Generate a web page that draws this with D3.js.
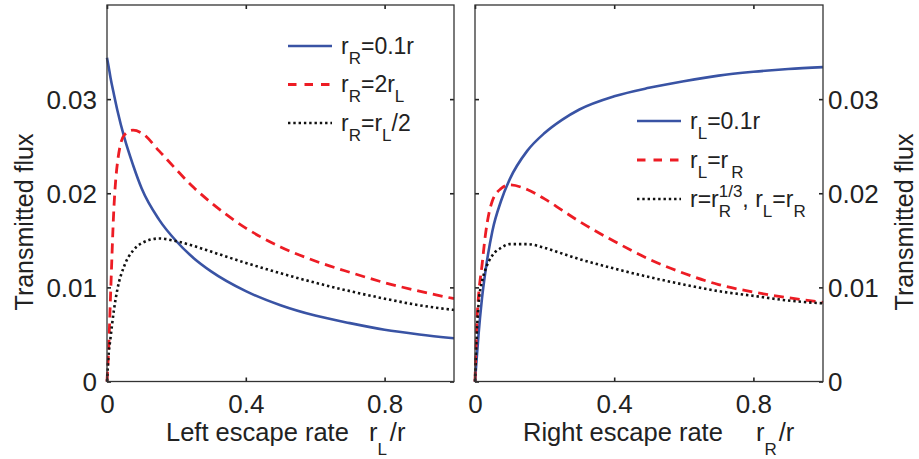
<!DOCTYPE html>
<html><head><meta charset="utf-8">
<script src="https://cdn.jsdelivr.net/npm/d3@7"></script>
<style>
body{margin:0;background:#fff}
svg{display:block}
text{font-family:"Liberation Sans",Arial,Helvetica,sans-serif;fill:#222}
</style>
</head><body>
<svg id="c" width="919" height="459"></svg>
<script>
// ---- data ----
const xGrid       = [0, 0.005, 0.01, 0.02, 0.03, 0.05, 0.075, 0.1, 0.15, 0.2, 0.25, 0.3, 0.4, 0.5, 0.6, 0.7, 0.8, 0.9, 1.0];
// left panel: x = r_L / r
const leftSolid   = [0.0344, 0.0334, 0.0323, 0.0305, 0.0288, 0.0259, 0.0230, 0.0205, 0.0172, 0.0149, 0.0131, 0.0117, 0.0096, 0.0081, 0.0070, 0.0062, 0.0055, 0.0050, 0.0046];
const leftDashed  = [0, 0.0037, 0.0089, 0.0185, 0.0232, 0.0262, 0.0267, 0.0264, 0.0245, 0.0225, 0.0206, 0.0190, 0.0163, 0.0143, 0.0128, 0.0116, 0.0105, 0.0096, 0.0088];
const leftDotted  = [0, 0.0030, 0.0046, 0.0076, 0.0098, 0.0123, 0.0139, 0.0147, 0.0152, 0.0149, 0.0144, 0.0138, 0.0126, 0.0115, 0.0105, 0.0096, 0.0088, 0.0081, 0.0076];
// right panel: x = r_R / r
const rightSolid  = [0, 0.0025, 0.0049, 0.0088, 0.0117, 0.0160, 0.0192, 0.0215, 0.0245, 0.0264, 0.0278, 0.0289, 0.0303, 0.0312, 0.0319, 0.0325, 0.0329, 0.0332, 0.0334];
const rightDashed = [0, 0.0060, 0.0090, 0.0123, 0.0156, 0.0192, 0.0205, 0.0209, 0.0204, 0.0194, 0.0182, 0.0170, 0.0149, 0.0130, 0.0115, 0.0103, 0.0095, 0.0089, 0.0084];
const rightDotted = [0, 0.0050, 0.0081, 0.0106, 0.0119, 0.0134, 0.0142, 0.0146, 0.0146, 0.0142, 0.0136, 0.0130, 0.0120, 0.0111, 0.0103, 0.0096, 0.0091, 0.0086, 0.0083];

const xTicks = [0, 0.4, 0.8];
const xTickLabels = ["0", "0.4", "0.8"];
const yTicks = [0, 0.01, 0.02, 0.03];
const yTickLabels = ["0", "0.01", "0.02", "0.03"];
const yTitle = "Transmitted flux";

const leftLegend = [
  [{t:"r"},{t:"R",s:"sub"},{t:"=0.1r"}],
  [{t:"r"},{t:"R",s:"sub"},{t:"=2r"},{t:"L",s:"sub"}],
  [{t:"r"},{t:"R",s:"sub"},{t:"=r"},{t:"L",s:"sub"},{t:"/2"}]
];
const rightLegend = [
  [{t:"r"},{t:"L",s:"sub"},{t:"=0.1r"}],
  [{t:"r"},{t:"L",s:"sub"},{t:"=r"},{t:"R",s:"sub",gap:3}],
  [{t:"r=r"},{t:"R",s:"sub"},{t:"1/3",s:"sup",back:12.3},{t:", r"},{t:"L",s:"sub"},{t:"=r"},{t:"R",s:"sub"}]
];
const leftXTitle  = [{t:"Left escape rate"},{t:"r",gap:20},{t:"L",s:"sub"},{t:"/r",gap:3}];
const rightXTitle = [{t:"Right escape rate"},{t:"r",gap:33},{t:"R",s:"sub"},{t:"/r",gap:2}];

// ---- styles ----
const styles = [
  {color:"#3953a4", dash:null,      legDash:null,      width:2.6},
  {color:"#ed1c24", dash:"10,6",    legDash:"8.5,8",   width:2.8},
  {color:"#111111", dash:"2.4,2.9", legDash:"2.4,2.9", width:2.6}
];

const svg = d3.select("#c");
const yTop = 5, yBottom = 381.5;
const y = d3.scaleLinear().domain([0, 0.04]).range([yBottom, yTop]);

const panels = [
  {x0:107, x1:454, series:[leftSolid, leftDashed, leftDotted], side:"left",
   legend:leftLegend, legX:288, legY:46, legStep:38.5, title:leftXTitle, titleX:166},
  {x0:475, x1:823, series:[rightSolid, rightDashed, rightDotted], side:"right",
   legend:rightLegend, legX:637, legY:121, legStep:39, title:rightXTitle, titleX:523}
];

function richText(sel, segs, mainSize, subSize, subShift, supShift){
  let cur = 0;
  segs.forEach((s) => {
    const ts = sel.append("tspan").text(s.t);
    let target = 0, size = mainSize;
    if (s.s === "sub") { target = subShift; size = subSize; }
    if (s.s === "sup") { target = supShift; size = subSize; }
    ts.attr("font-size", size).attr("dy", target - cur);
    let dx = 0;
    if (s.gap) dx += s.gap;
    if (s.back) dx -= s.back;
    if (dx) ts.attr("dx", dx);
    cur = target;
  });
}

panels.forEach(p => {
  const x = d3.scaleLinear().domain([0, 1]).range([p.x0, p.x1]);
  const g = svg.append("g");

  // curves
  const line = d3.line().x(d => x(d[0])).y(d => y(d[1])).curve(d3.curveMonotoneX);
  p.series.forEach((vals, i) => {
    const st = styles[i];
    g.append("path")
      .datum(xGrid.map((xv, j) => [xv, vals[j]]))
      .attr("d", line)
      .attr("fill", "none")
      .attr("stroke", st.color)
      .attr("stroke-width", st.width)
      .attr("stroke-dasharray", st.dash)
      .attr("stroke-linejoin", "round");
  });

  // axes
  const fmtX = d => xTickLabels[xTicks.indexOf(d)];
  const fmtY = d => yTickLabels[yTicks.indexOf(d)];
  const ax = (axis) => axis.tickSizeInner(-4).tickSizeOuter(0);

  const gb = g.append("g").attr("transform", `translate(0,${yBottom})`)
    .call(ax(d3.axisBottom(x).tickValues(xTicks).tickFormat(fmtX).tickPadding(13)));
  const gt = g.append("g").attr("transform", `translate(0,${yTop})`)
    .call(ax(d3.axisTop(x).tickValues(xTicks).tickFormat(() => "")));
  let gl, gr;
  if (p.side === "left") {
    gl = g.append("g").attr("transform", `translate(${p.x0},0)`)
      .call(ax(d3.axisLeft(y).tickValues(yTicks).tickFormat(fmtY).tickPadding(10)));
    gr = g.append("g").attr("transform", `translate(${p.x1},0)`)
      .call(ax(d3.axisRight(y).tickValues(yTicks).tickFormat(() => "")));
  } else {
    gl = g.append("g").attr("transform", `translate(${p.x0},0)`)
      .call(ax(d3.axisLeft(y).tickValues(yTicks).tickFormat(() => "")));
    gr = g.append("g").attr("transform", `translate(${p.x1},0)`)
      .call(ax(d3.axisRight(y).tickValues(yTicks).tickFormat(fmtY).tickPadding(5)));
  }
  [gb, gt, gl, gr].forEach(a => {
    a.select(".domain").remove();
    a.selectAll(".tick line").attr("stroke", "#222").attr("stroke-width", 1.6);
    a.selectAll(".tick text").attr("font-size", 26).attr("fill", "#222")
      .style("font-family", '"Liberation Sans",Arial,sans-serif');
  });
  [gl, gr].forEach(a => a.selectAll(".tick text").attr("dy", "0.36em"));

  // frame
  g.append("rect").attr("x", p.x0).attr("y", yTop)
    .attr("width", p.x1 - p.x0).attr("height", yBottom - yTop)
    .attr("fill", "none").attr("stroke", "#333").attr("stroke-width", 1.3);

  // legend
  p.legend.forEach((segs, i) => {
    const ly = p.legY + i * p.legStep;
    const st = styles[i];
    g.append("line").attr("x1", p.legX).attr("x2", p.legX + 44)
      .attr("y1", ly).attr("y2", ly)
      .attr("stroke", st.color).attr("stroke-width", st.width)
      .attr("stroke-dasharray", st.legDash);
    const t = g.append("text").attr("x", p.legX + 53).attr("y", ly + 7.5);
    richText(t, segs, 23, 17, 10, -10);
  });

  // x title
  const tt = g.append("text").attr("x", p.titleX).attr("y", 441);
  richText(tt, p.title, 25.5, 17, 14, -10);
});

// y titles
svg.append("text").attr("transform", "translate(33,222) rotate(-90)")
  .attr("text-anchor", "middle").attr("font-size", 25).text(yTitle);
svg.append("text").attr("transform", "translate(913,222) rotate(-90)")
  .attr("text-anchor", "middle").attr("font-size", 25).text(yTitle);
</script>
</body></html>
